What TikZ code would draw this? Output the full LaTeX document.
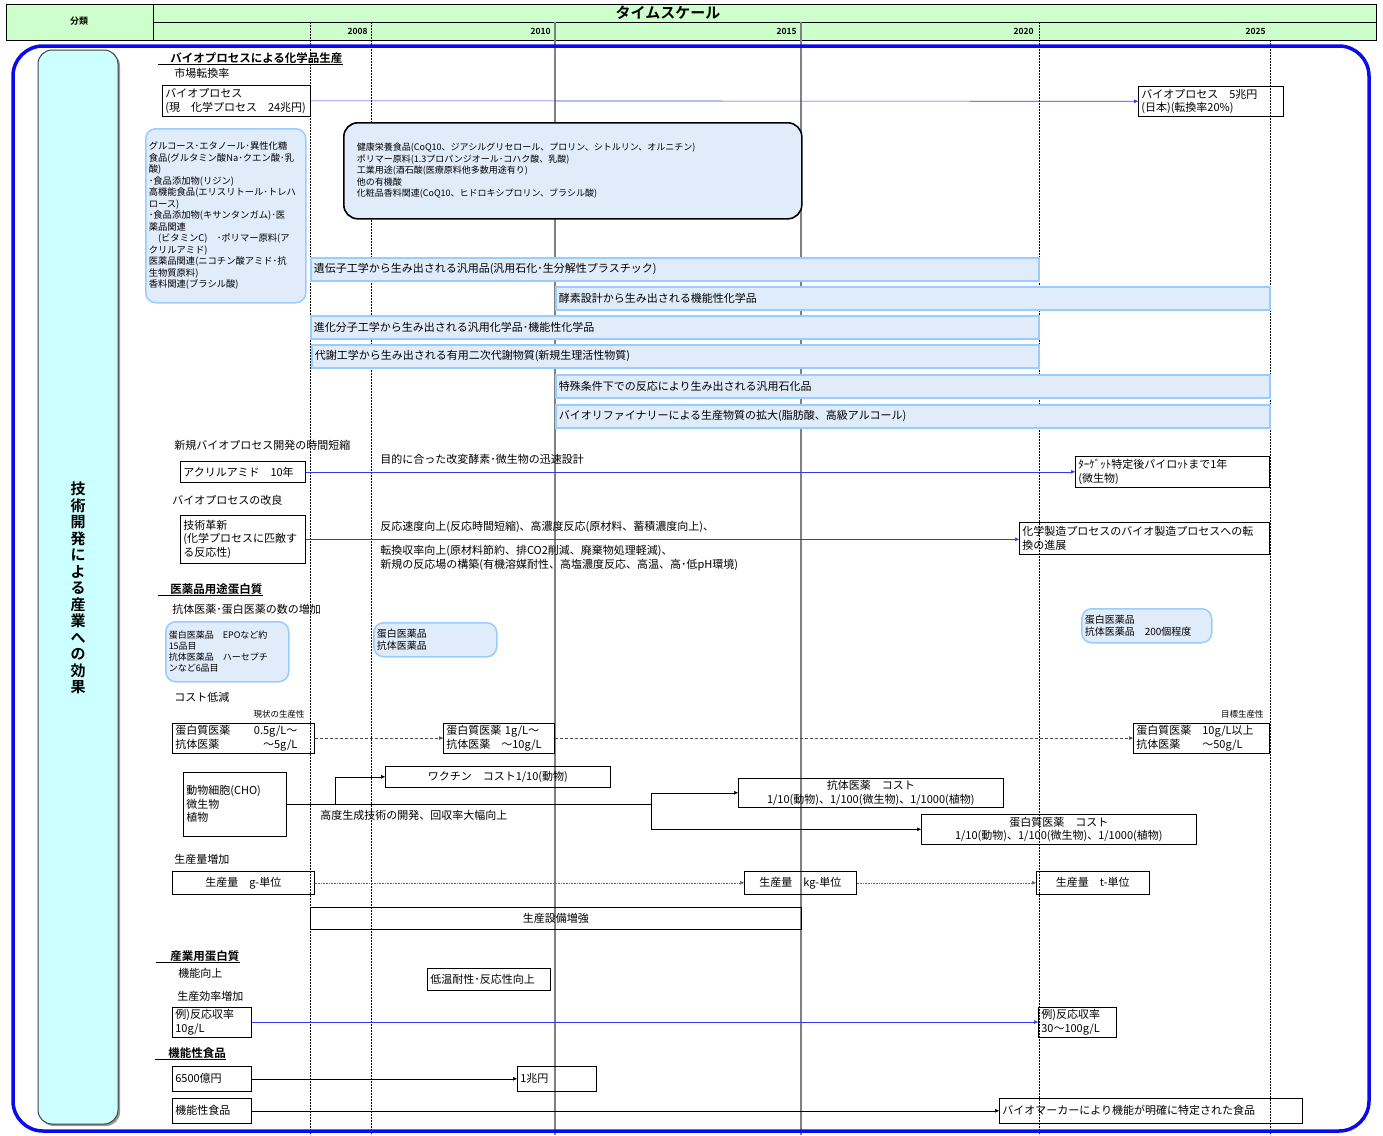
\documentclass[tikz,border=0pt]{standalone}
\usepackage{fontspec}
\newfontfamily\jp[BoldFont={Noto Sans CJK JP Bold}]{Noto Sans CJK JP}
\usetikzlibrary{arrows.meta, positioning}
\definecolor{hdgreen}{HTML}{CCFFCC}
\definecolor{sidecyan}{HTML}{CCFFFF}
\definecolor{barfill}{HTML}{E1ECFB}
\definecolor{barline}{HTML}{99CCFF}
\definecolor{frameblue}{HTML}{0A0AF0}
\definecolor{arrblue}{HTML}{3535F5}
\definecolor{gridgray}{HTML}{808080}
\newcommand\fA{\fontsize{11}{13.5}\selectfont}
\newcommand\fB{\fontsize{9.3}{11.5}\selectfont}
\newcommand\fC{\fontsize{9}{11.5}\selectfont}
\newcommand\fD{\fontsize{8.5}{10}\selectfont}
\newcommand\fE{\fontsize{9}{11}\selectfont}

\tikzset{
  txt/.style={inner sep=0pt, anchor=west},
  hd/.style={inner sep=0pt, anchor=west, font=\jp\bfseries\fontsize{11.5}{13}\selectfont},
  wh/.style 2 args={minimum width=#1pt, minimum height=#2pt, text width=#1pt-6pt},
  box/.style={draw, inner sep=2pt, align=left, anchor=north west},
  rbox/.style={box, draw=barline, fill=barfill, line width=1.5pt, rounded corners=10pt},
  bar/.style={box, draw=barline, fill=barfill, line width=1.5pt},
  yearlbl/.style={inner sep=0pt, anchor=east, font=\jp\bfseries\fD},
  arr/.style={-{Triangle[length=4pt,width=3.5pt]}},
  barr/.style={arr, arrblue},
  darr/.style={arr, densely dashed, black!70},
  dotarr/.style={arr, densely dotted, black!60},
  uline/.style={line width=0.8pt}
}

\begin{document}
\begin{tikzpicture}[x=1pt, y=-1pt, font=\jp\fA, line width=0.6pt]
  \useasboundingbox (0,0) rectangle (1383,1135);

  % header
  \fill[hdgreen] (6,4) rectangle (1376,40);
  \draw (6,4) rectangle (1376,40);
  \draw (153,4) -- (153,40);
  \draw (153,22) -- (1376,22);
  \node[font=\jp\bfseries\fontsize{9}{10}\selectfont] (bunrui) at (79,21) {分類};
  \node[font=\jp\bfseries\fontsize{15}{16}\selectfont] (tscale) at (668,13) {タイムスケール};
  \foreach \yr/\xx in {2008/368, 2010/551, 2015/797, 2020/1034, 2025/1266}
    \node[yearlbl] (y\yr) at (\xx,31) {\yr};

  % time grid
  \foreach \xx in {310, 371, 1039}
    \draw[thin, dash pattern=on 2pt off 1pt] (\xx,22) -- (\xx,1135);
  \draw[thin, dash pattern=on 2pt off 1pt] (1270,40) -- (1270,1135);
  \foreach \xx in {555, 801}
    \draw[gridgray, line width=1.2pt] (\xx,22) -- (\xx,1135);

  % frame and side label
  \draw[frameblue, line width=3.5pt, rounded corners=30pt] (13,46) rectangle (1369,1131);
  \fill[black!40, rounded corners=14pt] (40,52) rectangle (120,1126);
  \draw[fill=sidecyan, draw=black!75, line width=1pt, rounded corners=14pt] (38,50) rectangle (118,1124);
  \node[font=\jp\bfseries\fontsize{15}{16.5}\selectfont, align=center] (sidettl) at (78,588)
    {技\\術\\開\\発\\に\\よ\\る\\産\\業\\へ\\の\\効\\果};

  % バイオプロセスによる化学品生産
  \node[hd] (hd1) at (170,58) {バイオプロセスによる化学品生産};
  \draw[uline] ([xshift=-12pt,yshift=-1pt]hd1.south west) -- ([yshift=-1pt]hd1.south east);
  \node[txt] (mkt) at (174,73) {市場転換率};
  \node[box, wh={148}{31}] (bp1) at (162,85) {バイオプロセス\\(現　化学プロセス　24兆円)};
  \node[box, wh={145}{30}] (bp2) at (1138,86) {バイオプロセス　5兆円\\(日本)(転換率20\%)};
  \draw[barr] (bp1.east) -- (bp2.west);

  \node[rbox, wh={160}{174}, font=\jp\fB] (lst) at (145,128)
    {グルコース･エタノール･異性化糖\\食品(グルタミン酸Na･クエン酸･乳\\酸)\\･食品添加物(リジン)\\
     高機能食品(エリスリトール･トレハ\\ロース)\\･食品添加物(キサンタンガム)･医\\薬品関連\\
     　(ビタミンC)　･ポリマー原料(ア\\クリルアミド)\\医薬品関連(ニコチン酸アミド･抗\\生物質原料)\\
     香料関連(ブラシル酸)};
  \node[rbox, draw=black, line width=1.6pt, rounded corners=14pt, wh={458}{96}, text width=432pt, font=\jp\fC] (hlth) at (343,122)
    {健康栄養食品(CoQ10、ジアシルグリセロール、プロリン、シトルリン、オルニチン)\\
     ポリマー原料(1.3プロパンジオール･コハク酸、乳酸)\\工業用途(酒石酸(医療原料他多数用途有り)\\
     他の有機酸\\化粧品香料関連(CoQ10、ヒドロキシプロリン、ブラシル酸)};

  \node[bar, wh={728}{23}] (b1) at (310,257) {遺伝子工学から生み出される汎用品(汎用石化･生分解性プラスチック)};
  \node[bar, wh={714}{23}] (b2) at (555,286) {酵素設計から生み出される機能性化学品};
  \node[bar, wh={728}{23}] (b3) at (310,315) {進化分子工学から生み出される汎用化学品･機能性化学品};
  \node[bar, wh={727}{23}] (b4) at (311,344) {代謝工学から生み出される有用二次代謝物質(新規生理活性物質)};
  \node[bar, wh={714}{23}] (b5) at (555,374) {特殊条件下での反応により生み出される汎用石化品};
  \node[bar, wh={714}{23}] (b6) at (555,404) {バイオリファイナリーによる生産物質の拡大(脂肪酸、高級アルコール)};

  \node[txt] (newbp) at (174,445) {新規バイオプロセス開発の時間短縮};
  \node[box, wh={125}{21}] (acr) at (180,461) {アクリルアミド　10年};
  \node[txt] (rapid) at (380,459) {目的に合った改変酵素･微生物の迅速設計};
  \node[box, wh={194}{31}] (tgt) at (1075,456) {ﾀｰｹﾞｯﾄ特定後パイロｯﾄまで1年\\(微生物)};
  \draw[barr] (acr.east) -- (tgt.west);

  \node[txt] (kairyo) at (172,500) {バイオプロセスの改良};
  \node[box, wh={125}{48}] (inno) at (180,515) {技術革新\\(化学プロセスに匹敵す\\る反応性)};
  \node[box, wh={250}{32}] (conv) at (1019,522) {化学製造プロセスのバイオ製造プロセスへの転\\換の進展};
  \draw[barr] (inno.east) -- (conv.west |- inno.east);
  \node[txt] (imp1) at (380,527) {反応速度向上(反応時間短縮)、高濃度反応(原材料、蓄積濃度向上)、};
  \node[txt, align=left, font=\jp\fontsize{11}{14}\selectfont] (imp2) at (380,558)
    {転換収率向上(原材料節約、排CO2削減、廃棄物処理軽減)、\\新規の反応場の構築(有機溶媒耐性、高塩濃度反応、高温、高･低pH環境)};

  % 医薬品用途蛋白質
  \node[hd] (hd2) at (170,589) {医薬品用途蛋白質};
  \draw[uline] ([xshift=-12pt,yshift=-1pt]hd2.south west) -- ([yshift=-1pt]hd2.south east);
  \node[txt] (incr) at (172,609) {抗体医薬･蛋白医薬の数の増加};
  \node[rbox, wh={123}{60}, font=\jp\fE] (ph1) at (165,621) {蛋白医薬品　EPOなど約\\15品目\\抗体医薬品　ハーセプチ\\ンなど6品目};
  \node[rbox, wh={123}{34}, font=\jp\fontsize{10}{12}\selectfont] (ph2) at (373,622) {蛋白医薬品\\抗体医薬品};
  \node[rbox, wh={130}{34}, font=\jp\fontsize{10}{12}\selectfont] (ph3) at (1081,608) {蛋白医薬品\\抗体医薬品　200個程度};

  \node[txt] (cost) at (174,697) {コスト低減};
  \node[txt, anchor=east, font=\jp\fD] (curp) at (305,714) {現状の生産性};
  \node[txt, anchor=east, font=\jp\fD] (tgtp) at (1264,714) {目標生産性};
  \node[box, wh={142}{29}] (c1) at (172,723)
    {\makebox[80pt][l]{蛋白質医薬}\makebox[42pt][r]{0.5g/L～}\\\makebox[80pt][l]{抗体医薬}\makebox[42pt][r]{～5g/L}};
  \node[box, wh={111}{29}] (c2) at (443,723) {蛋白質医薬 1g/L～\\抗体医薬　～10g/L};
  \node[box, wh={136}{29}] (c3) at (1133,723) {蛋白質医薬　10g/L以上\\抗体医薬　　～50g/L};
  \draw[darr] (c1.east) -- (c2.west);
  \draw[darr] (c2.east) -- (c3.west);

  \node[box, wh={103}{64}] (cho) at (183,772) {動物細胞(CHO)\\微生物\\植物};
  \node[box, wh={225}{21}, align=center] (vac) at (385,766) {ワクチン　コスト1/10(動物)};
  \node[box, wh={265}{29}, align=center] (ab) at (738,778) {抗体医薬　コスト\\1/10(動物)、1/100(微生物)、1/1000(植物)};
  \node[box, wh={275}{30}, align=center] (pr) at (921,814) {蛋白質医薬　コスト\\1/10(動物)、1/100(微生物)、1/1000(植物)};
  \coordinate (j1) at (cho.east -| 335,0);
  \coordinate (j2) at (cho.east -| 651,0);
  \draw (cho.east) -- (j2);
  \draw[arr] (j1) |- (vac.west);
  \draw[arr] (j2) |- (ab.west);
  \draw[arr] (j2) |- (pr.west);
  \node[txt] (hiprod) at (320,815) {高度生成技術の開発、回収率大幅向上};

  \node[txt] (vol) at (174,859) {生産量増加};
  \node[box, wh={142}{23}, align=center] (g1) at (172,871) {生産量　g-単位};
  \node[box, wh={112}{23}, align=center] (g2) at (744,871) {生産量　kg-単位};
  \node[box, wh={113}{23}, align=center] (g3) at (1036,871) {生産量　t-単位};
  \draw[dotarr] (g1.east) -- (g2.west);
  \draw[dotarr] (g2.east) -- (g3.west);
  \node[box, wh={491}{22}, align=center] (fac) at (310,907) {生産設備増強};

  % 産業用蛋白質
  \node[hd] (hd3) at (170,956) {産業用蛋白質};
  \draw[uline] ([xshift=-14pt,yshift=-1pt]hd3.south west) -- ([yshift=-1pt]hd3.south east);
  \node[txt] (func) at (178,973) {機能向上};
  \node[box, wh={123}{22}] (lowt) at (427,968) {低温耐性･反応性向上};
  \node[txt] (effi) at (177,996) {生産効率増加};
  \node[box, wh={79}{29}] (e1) at (172,1007) {例)反応収率\\10g/L};
  \node[box, wh={78}{29}] (e2) at (1038,1007) {例)反応収率\\30～100g/L};
  \draw[barr] (e1.east) -- (e2.west);

  % 機能性食品
  \node[hd] (hd4) at (168,1053) {機能性食品};
  \draw[uline] ([xshift=-13pt,yshift=-1pt]hd4.south west) -- ([yshift=-1pt]hd4.south east);
  \node[box, wh={79}{25}] (f1) at (172,1066) {6500億円};
  \node[box, wh={79}{25}] (f2) at (517,1066) {1兆円};
  \node[box, wh={79}{25}] (f3) at (172,1098) {機能性食品};
  \node[box, wh={303}{25}] (f4) at (999,1098) {バイオマーカーにより機能が明確に特定された食品};
  \draw[arr] (f1.east) -- (f2.west);
  \draw[arr] (f3.east) -- (f4.west);
\end{tikzpicture}
\end{document}
